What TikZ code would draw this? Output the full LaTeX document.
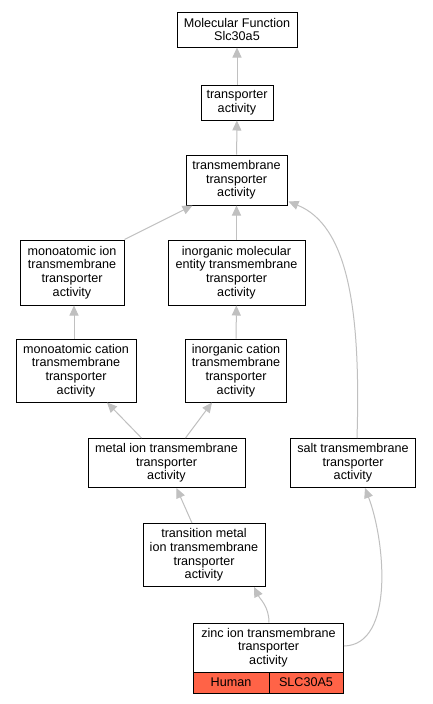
\documentclass[tikz,border=0pt]{standalone}
\usepackage{fontspec}
\setmainfont{Liberation Sans}
\usetikzlibrary{arrows.meta,calc}
\definecolor{edgegray}{HTML}{C0C0C0}
\definecolor{tomatofill}{HTML}{FF6347}
\begin{document}
\begin{tikzpicture}[x=1pt,y=-1pt,
  box/.style={draw=black, line width=1pt, fill=white, align=center, inner sep=0pt,
    font=\fontsize{12.6}{13.7}\selectfont},
  cell/.style={draw=black, line width=1pt, fill=tomatofill, align=center, inner sep=0pt,
    font=\fontsize{12.6}{13.7}\selectfont, minimum height=21pt},
  edge/.style={draw=edgegray, line width=1pt, -{Triangle[length=10pt,width=9pt]}}]
\useasboundingbox[fill=white] (0,0) rectangle (432,704);

\node[box, minimum width=120pt, minimum height=35pt] (mf) at (237,29.5) {Molecular Function\\Slc30a5};
\node[box, minimum width=72pt, minimum height=35pt] (ta) at (237,102.5) {transporter\\activity};
\node[box, minimum width=101pt, minimum height=50pt] (tmt) at (236.5,180) {transmembrane\\transporter\\activity};
\node[box, minimum width=104pt, minimum height=65pt] (mion) at (72,272.5) {monoatomic ion\\transmembrane\\transporter\\activity};
\node[box, minimum width=137pt, minimum height=65pt] (imol) at (236.5,272.5) {inorganic molecular\\entity transmembrane\\transporter\\activity};
\node[box, minimum width=120pt, minimum height=63pt] (mcat) at (76,370.5) {monoatomic cation\\transmembrane\\transporter\\activity};
\node[box, minimum width=101pt, minimum height=63pt] (icat) at (236,370.5) {inorganic cation\\transmembrane\\transporter\\activity};
\node[box, minimum width=157pt, minimum height=49pt] (metal) at (166.5,463) {metal ion transmembrane\\transporter\\activity};
\node[box, minimum width=125pt, minimum height=49pt] (salt) at (353,463) {salt transmembrane\\transporter\\activity};
\node[box, minimum width=122pt, minimum height=63pt] (trans) at (204,555) {transition metal\\ion transmembrane\\transporter\\activity};
\node[box, minimum width=150pt, minimum height=49pt] (zinc) at (268.5,647.5) {zinc ion transmembrane\\transporter\\activity};
\node[cell, minimum width=76pt] (human) at (231,682.5) {Human};
\node[cell, minimum width=74pt] (gene) at (306,682.5) {SLC30A5};

\draw[edge] (ta) -- (mf);
\draw[edge] (tmt) -- (ta);
\draw[edge] (mion.north east) -- ($(tmt.south west)+(7,0)$);
\draw[edge] (imol) -- (tmt);
\draw[edge] ($(salt.north)+(4,0)$) .. controls ($(salt.north)+(8,-130)$) and ($(tmt.south east)+(60,20)$) .. ($(tmt.south east)+(1,-4)$);
\draw[edge] ($(mcat.north)+(-2,0)$) -- ($(mion.south)+(2,0)$);
\draw[edge] (icat) -- (imol);
\draw[edge] ($(metal.north)+(-25,0)$) -- ($(mcat.south)+(31,0)$);
\draw[edge] ($(metal.north)+(19,0)$) -- ($(icat.south)+(-24,0)$);
\draw[edge] ($(trans.north)+(-12,0)$) -- ($(metal.south)+(10,0)$);
\draw[edge] ($(zinc.north)+(0.5,0)$) .. controls ($(zinc.north)+(0.5,-16)$) and ($(trans.south)+(56,12)$) .. ($(trans.south)+(50,0)$);
\draw[edge] ($(zinc.east)+(0,-1.5)$) .. controls ($(zinc.east)+(51,-2.5)$) and ($(salt.south)+(32,52)$) .. ($(salt.south)+(12,0)$);
\end{tikzpicture}
\end{document}
